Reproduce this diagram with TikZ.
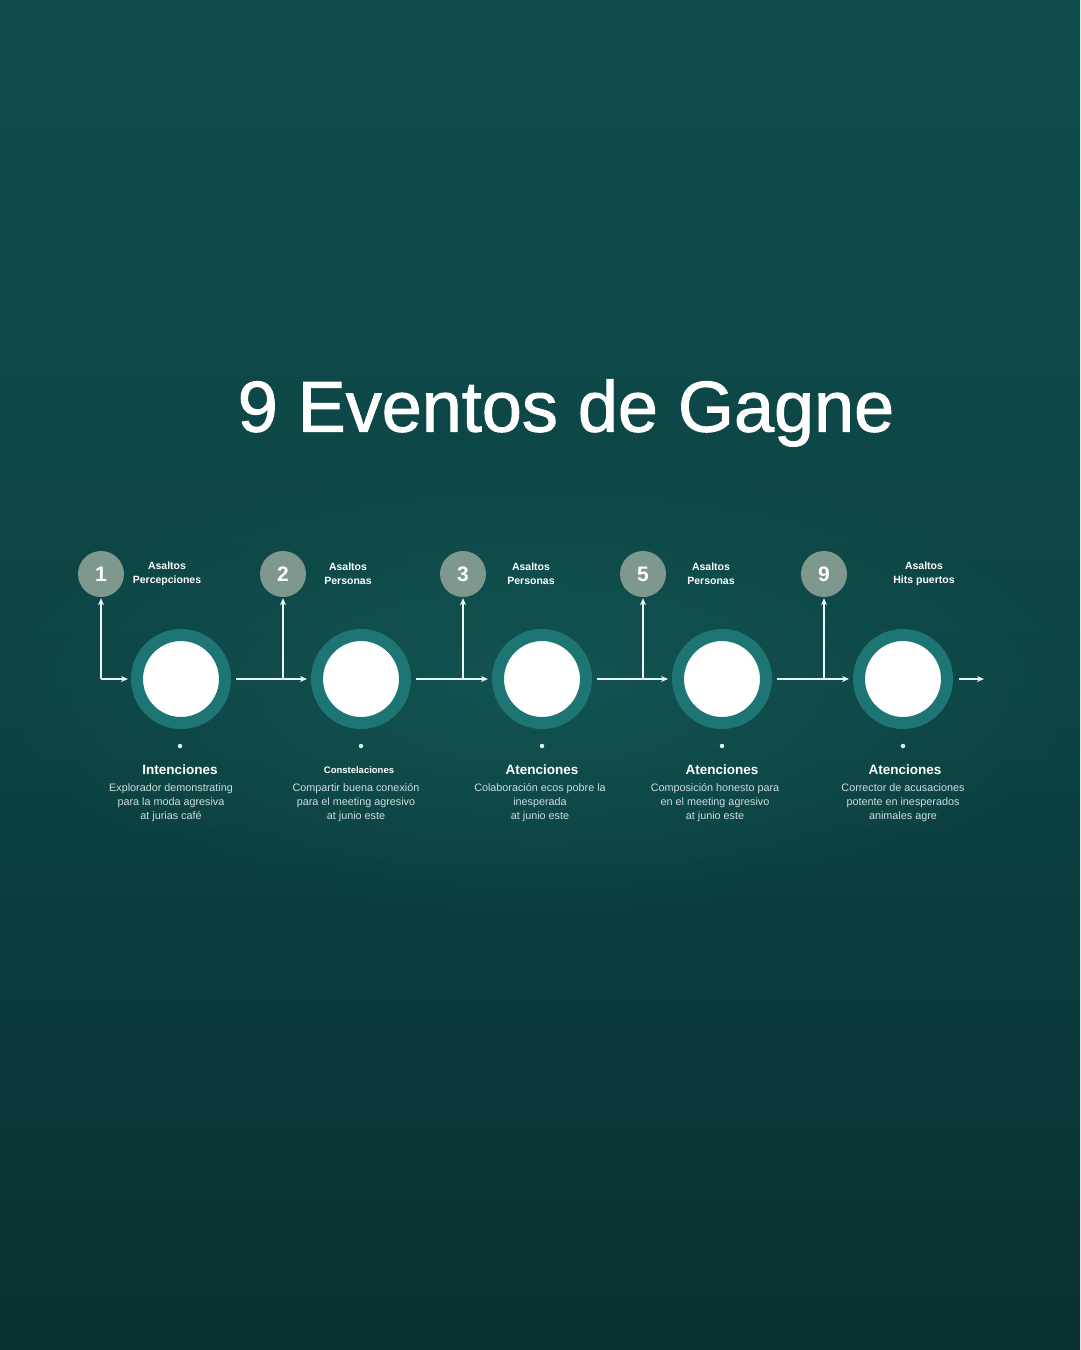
\documentclass[tikz,border=0pt]{standalone}
\usepackage{fontspec}
\setmainfont{Liberation Sans}
\newfontfamily\titlefont[FakeBold=1.3]{Liberation Sans}
\usetikzlibrary{arrows.meta,fadings}
\definecolor{bgtop}{RGB}{16,76,76}
\definecolor{bgmid}{RGB}{13,68,68}
\definecolor{bgbot}{RGB}{9,48,48}
\definecolor{glow}{RGB}{24,96,96}
\definecolor{numfill}{RGB}{126,152,142}
\definecolor{ringc}{RGB}{30,118,116}
\definecolor{desc}{RGB}{205,222,220}
\tikzfading[name=softglow, inner color=transparent!45, outer color=transparent!100]
\tikzset{
  numc/.style={circle,fill=numfill,minimum size=46pt,inner sep=0pt,text=white,font=\bfseries\fontsize{21}{21}\selectfont},
  bigc/.style={circle,fill=white,draw=ringc,line width=12pt,minimum size=88pt,inner sep=0pt},
  toplbl/.style={text=white,align=center,font=\bfseries\fontsize{10.5}{14}\selectfont},
  headlbl/.style={text=white,anchor=base,font=\bfseries\fontsize{13.5}{14}\selectfont},
  headsmall/.style={text=white,anchor=base,font=\bfseries\fontsize{9.5}{14}\selectfont},
  desclbl/.style={text=desc,align=center,anchor=north,font=\fontsize{10.8}{14}\selectfont},
  arr/.style={draw=white!92!teal,line width=1.8pt,-{Stealth[length=7pt,width=6pt]}},
  dotm/.style={circle,fill=white!90!teal,minimum size=4.5pt,inner sep=0pt}
}
\begin{document}
\begin{tikzpicture}[x=1pt,y=-1pt]
\shade[top color=bgtop,bottom color=bgbot,middle color=bgmid] (0,0) rectangle (1080,1350);
\useasboundingbox (0,0) rectangle (1080,1350);
\fill[glow,path fading=softglow] (540,690) ellipse (560pt and 230pt);
\node[text=white,font=\titlefont\fontsize{72}{72}\selectfont] (title) at (566,413) {9 Eventos de Gagne};
% number circles
\node[numc] (n1) at (101,574) {1};
\node[numc] (n2) at (283,574) {2};
\node[numc] (n3) at (463,574) {3};
\node[numc] (n4) at (643,574) {5};
\node[numc] (n5) at (824,574) {9};
% top labels
\node[toplbl] (t1) at (167,574) {Asaltos\\Percepciones};
\node[toplbl] (t2) at (348,574) {Asaltos\\Personas};
\node[toplbl] (t3) at (531,574) {Asaltos\\Personas};
\node[toplbl] (t4) at (711,574) {Asaltos\\Personas};
\node[toplbl] (t5) at (924,574) {Asaltos\\Hits puertos};
% big circles
\node[bigc] (c1) at (181,679) {};
\node[bigc] (c2) at (361,679) {};
\node[bigc] (c3) at (542,679) {};
\node[bigc] (c4) at (722,679) {};
\node[bigc] (c5) at (903,679) {};
% junctions
\coordinate (j1) at (101,679);
\coordinate (j2) at (283,679);
\coordinate (j3) at (463,679);
\coordinate (j4) at (643,679);
\coordinate (j5) at (824,679);
\coordinate (endpt) at (984,679);
% connectors
\draw[arr,shorten >=1pt] (j1) -- (n1);
\draw[arr,shorten >=3pt] (j1) -- (c1);
\draw[arr,shorten <=5pt,shorten >=4pt] (c1) -- (c2);
\draw[arr,shorten <=5pt,shorten >=4pt] (c2) -- (c3);
\draw[arr,shorten <=5pt,shorten >=4pt] (c3) -- (c4);
\draw[arr,shorten <=5pt,shorten >=4pt] (c4) -- (c5);
\draw[arr,shorten >=1pt] (j2) -- (n2);
\draw[arr,shorten >=1pt] (j3) -- (n3);
\draw[arr,shorten >=1pt] (j4) -- (n4);
\draw[arr,shorten >=1pt] (j5) -- (n5);
\draw[arr,shorten <=6pt] (c5) -- (endpt);
% dots
\node[dotm] (d1) at (180,746) {};
\node[dotm] (d2) at (361,746) {};
\node[dotm] (d3) at (542,746) {};
\node[dotm] (d4) at (722,746) {};
\node[dotm] (d5) at (903,746) {};
% headings
\node[headlbl] (h1) at (180,774) {Intenciones};
\node[headsmall] (h2) at (359,773) {Constelaciones};
\node[headlbl] (h3) at (542,774) {Atenciones};
\node[headlbl] (h4) at (722,774) {Atenciones};
\node[headlbl] (h5) at (905,774) {Atenciones};
% descriptions
\node[desclbl] (e1) at (171,780) {Explorador demonstrating\\para la moda agresiva\\at jurias café};
\node[desclbl] (e2) at (356,780) {Compartir buena conexión\\para el meeting agresivo\\at junio este};
\node[desclbl] (e3) at (540,780) {Colaboración ecos pobre la\\inesperada\\at junio este};
\node[desclbl] (e4) at (715,780) {Composición honesto para\\en el meeting agresivo\\at junio este};
\node[desclbl] (e5) at (903,780) {Corrector de acusaciones\\potente en inesperados\\animales agre};
\end{tikzpicture}
\end{document}
